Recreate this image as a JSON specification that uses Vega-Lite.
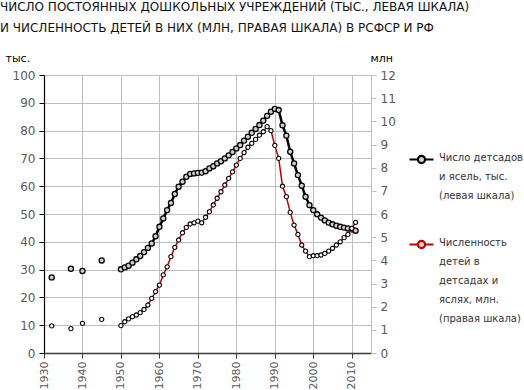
{
  "$schema": "https://vega.github.io/schema/vega-lite/v6.json",
  "autosize": {"type": "none"},
  "width": 327,
  "height": 278,
  "padding": {"left": 44, "top": 75, "right": 153, "bottom": 37},
  "background": "#ffffff",
  "config": {
    "view": {"stroke": null},
    "font": "DejaVu Sans",
    "axis": {"labelFont": "DejaVu Sans", "labelFontSize": 12, "labelColor": "#595959", "titleFont": "DejaVu Sans", "titleFontWeight": "normal", "titleFontSize": 11, "titleColor": "#000000"}
  },
  "title": {
    "text": ["ЧИСЛО ПОСТОЯННЫХ ДОШКОЛЬНЫХ УЧРЕЖДЕНИЙ (ТЫС., ЛЕВАЯ ШКАЛА)", "И ЧИСЛЕННОСТЬ ДЕТЕЙ В НИХ (МЛН, ПРАВАЯ ШКАЛА) В РСФСР И РФ"],
    "anchor": "start",
    "frame": "group",
    "dx": -44,
    "offset": 17,
    "font": "DejaVu Sans",
    "fontSize": 12,
    "fontWeight": "normal",
    "lineHeight": 21,
    "color": "#111111"
  },
  "data": {
    "values": [
      {"year": 1932, "inst": 27.2, "kids": 1.17},
      {"year": 1937, "inst": 30.3, "kids": 1.05},
      {"year": 1940, "inst": 29.5, "kids": 1.28},
      {"year": 1945, "inst": 33.3, "kids": 1.45},
      {"year": 1950, "inst": 30.1, "kids": 1.18},
      {"year": 1951, "inst": 30.8, "kids": 1.35},
      {"year": 1952, "inst": 31.4, "kids": 1.47},
      {"year": 1953, "inst": 32.5, "kids": 1.57},
      {"year": 1954, "inst": 33.7, "kids": 1.64},
      {"year": 1955, "inst": 34.9, "kids": 1.74},
      {"year": 1956, "inst": 36.3, "kids": 1.88},
      {"year": 1957, "inst": 37.8, "kids": 2.07},
      {"year": 1958, "inst": 39.4, "kids": 2.36},
      {"year": 1959, "inst": 42.0, "kids": 2.65},
      {"year": 1960, "inst": 45.4, "kids": 2.93},
      {"year": 1961, "inst": 48.4, "kids": 3.37},
      {"year": 1962, "inst": 51.4, "kids": 3.72},
      {"year": 1963, "inst": 54.0, "kids": 4.16},
      {"year": 1964, "inst": 57.2, "kids": 4.56},
      {"year": 1965, "inst": 59.8, "kids": 4.88},
      {"year": 1966, "inst": 61.6, "kids": 5.19},
      {"year": 1967, "inst": 63.4, "kids": 5.42},
      {"year": 1968, "inst": 64.4, "kids": 5.57},
      {"year": 1969, "inst": 64.6, "kids": 5.62},
      {"year": 1970, "inst": 64.8, "kids": 5.69},
      {"year": 1971, "inst": 64.9, "kids": 5.62},
      {"year": 1972, "inst": 65.4, "kids": 5.86},
      {"year": 1973, "inst": 66.4, "kids": 6.1},
      {"year": 1974, "inst": 67.2, "kids": 6.39},
      {"year": 1975, "inst": 68.2, "kids": 6.68},
      {"year": 1976, "inst": 69.0, "kids": 6.96},
      {"year": 1977, "inst": 70.0, "kids": 7.25},
      {"year": 1978, "inst": 71.1, "kids": 7.54},
      {"year": 1979, "inst": 72.3, "kids": 7.82},
      {"year": 1980, "inst": 73.6, "kids": 8.11},
      {"year": 1981, "inst": 74.8, "kids": 8.4},
      {"year": 1982, "inst": 76.4, "kids": 8.65},
      {"year": 1983, "inst": 77.8, "kids": 8.88},
      {"year": 1984, "inst": 79.2, "kids": 9.05},
      {"year": 1985, "inst": 80.6, "kids": 9.22},
      {"year": 1986, "inst": 82.0, "kids": 9.4},
      {"year": 1987, "inst": 83.6, "kids": 9.55},
      {"year": 1988, "inst": 85.3, "kids": 9.77},
      {"year": 1989, "inst": 86.8, "kids": 9.6},
      {"year": 1990, "inst": 87.8, "kids": 8.96},
      {"year": 1991, "inst": 87.4, "kids": 8.4},
      {"year": 1992, "inst": 81.9, "kids": 7.2},
      {"year": 1993, "inst": 78.2, "kids": 6.75},
      {"year": 1994, "inst": 72.4, "kids": 6.07},
      {"year": 1995, "inst": 68.2, "kids": 5.52},
      {"year": 1996, "inst": 64.0, "kids": 5.12},
      {"year": 1997, "inst": 60.2, "kids": 4.66},
      {"year": 1998, "inst": 56.2, "kids": 4.4},
      {"year": 1999, "inst": 53.2, "kids": 4.16},
      {"year": 2000, "inst": 51.4, "kids": 4.2},
      {"year": 2001, "inst": 49.9, "kids": 4.2},
      {"year": 2002, "inst": 48.7, "kids": 4.23},
      {"year": 2003, "inst": 47.7, "kids": 4.3},
      {"year": 2004, "inst": 46.9, "kids": 4.4},
      {"year": 2005, "inst": 46.3, "kids": 4.52},
      {"year": 2006, "inst": 45.8, "kids": 4.66},
      {"year": 2007, "inst": 45.4, "kids": 4.8},
      {"year": 2008, "inst": 45.1, "kids": 4.98},
      {"year": 2009, "inst": 44.8, "kids": 5.12},
      {"year": 2010, "inst": 44.5, "kids": 5.38},
      {"year": 2011, "inst": 44.0, "kids": 5.64}
    ]
  },
  "encoding": {
    "x": {
      "field": "year", "type": "quantitative",
      "scale": {"domain": [1930, 2015], "nice": false, "zero": false},
      "axis": {
        "title": null, "values": [1930, 1940, 1950, 1960, 1970, 1980, 1990, 2000, 2010],
        "format": "d", "labelAngle": -90, "labelAlign": "right", "labelBaseline": "middle",
        "labelFontSize": 11, "labelPadding": 3, "grid": true, "gridColor": "#bdbdbd", "gridWidth": 1,
        "domainColor": "#3a3a3a", "domainWidth": 1.5, "tickColor": "#3a3a3a", "tickSize": 5
      }
    }
  },
  "layer": [
    {
      "encoding": {
        "y": {
          "field": "inst", "type": "quantitative",
          "scale": {"domain": [0, 100], "nice": false},
          "axis": {
            "title": "тыс.", "titleAngle": 0, "titleAlign": "left", "titleBaseline": "middle",
            "titleX": -39, "titleY": -17,
            "values": [0, 10, 20, 30, 40, 50, 60, 70, 80, 90, 100],
            "grid": true, "gridColor": "#bdbdbd", "gridWidth": 1,
            "domainColor": "#000000", "domainWidth": 1.2, "tickColor": "#000000", "tickSize": 5, "labelPadding": 4
          }
        }
      },
      "layer": [
        {
          "transform": [{"filter": "datum.year >= 1950"}],
          "mark": {"type": "line", "strokeWidth": 2.5},
          "encoding": {
            "color": {
              "datum": "Число детсадов|и ясель, тыс.|(левая шкала)",
              "scale": {
                "domain": ["Число детсадов|и ясель, тыс.|(левая шкала)", "Численность|детей в|детсадах и|яслях, млн.|(правая шкала)"],
                "range": ["#000000", "#c00000"]
              },
              "legend": {
                "orient": "none", "legendX": 364, "legendY": 71, "title": null,
                "padding": 0, "rowPadding": 30,
                "symbolType": "M-1,0L-0.3,0M0.3,0L1,0M0.3,0A0.3,0.3,0,1,1,-0.3,0A0.3,0.3,0,1,1,0.3,0Z",
                "symbolSize": 576, "symbolStrokeWidth": 2.2, "symbolFillColor": "#d0d0d0",
                "labelExpr": "split(datum.label, '|')",
                "labelFont": "DejaVu Sans", "labelFontSize": 10, "labelColor": "#333333",
                "labelLimit": 200, "labelOffset": 4, "labelBaseline": "top",
                "encode": {"labels": {"update": {"lineHeight": {"value": 19}, "dy": {"value": -7}}}}
              }
            }
          }
        },
        {
          "mark": {"type": "point", "shape": "circle", "filled": true, "size": 26, "fill": "#d0d0d0", "stroke": "#000000", "strokeWidth": 1.3, "opacity": 1}
        }
      ]
    },
    {
      "encoding": {
        "y": {
          "field": "kids", "type": "quantitative",
          "scale": {"domain": [0, 12], "nice": false},
          "axis": {
            "orient": "right",
            "title": "млн", "titleAngle": 0, "titleAlign": "left", "titleBaseline": "middle",
            "titleX": -1, "titleY": -17,
            "values": [0, 1, 2, 3, 4, 5, 6, 7, 8, 9, 10, 11, 12],
            "grid": false,
            "domainColor": "#bdbdbd", "domainWidth": 1, "tickColor": "#bdbdbd", "tickSize": 5, "labelPadding": 4
          }
        }
      },
      "layer": [
        {
          "transform": [{"filter": "datum.year >= 1950"}],
          "mark": {"type": "line", "strokeWidth": 1.5},
          "encoding": {
            "color": {"datum": "Численность|детей в|детсадах и|яслях, млн.|(правая шкала)"}
          }
        },
        {
          "mark": {"type": "point", "shape": "circle", "filled": true, "size": 18, "fill": "#ffffff", "stroke": "#000000", "strokeWidth": 1.1, "opacity": 1}
        }
      ]
    }
  ],
  "resolve": {"scale": {"y": "independent"}}
}
